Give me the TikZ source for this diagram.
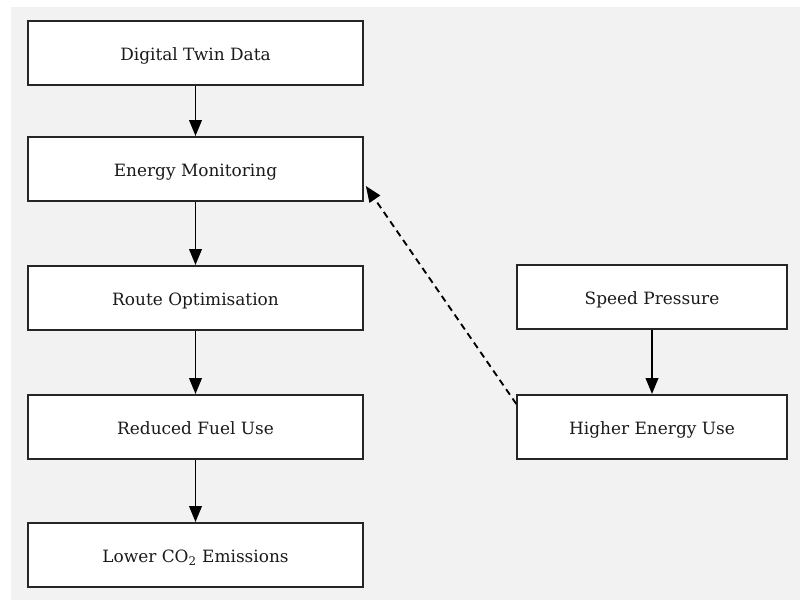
\documentclass[tikz,border=0pt]{standalone}
\usepackage{fontspec}
\setmainfont{DejaVu Serif}
\usetikzlibrary{arrows.meta,calc}
\definecolor{bggray}{HTML}{F2F2F2}
\definecolor{txt}{HTML}{1A1A1A}
\begin{document}
\begin{tikzpicture}[x=0.75pt,y=-0.75pt,
  box/.style={draw=black!85,line width=1.5pt,fill=white,rectangle,inner sep=0pt,
    minimum height=48pt,text height=11.5pt,text depth=0pt,text=txt,
    font=\fontsize{12.7}{15}\selectfont},
  lbox/.style={box,minimum width=251pt},
  rbox/.style={box,minimum width=202pt},
  flow/.style={line width=1.4pt,-{Triangle[length=12pt,width=9.5pt]}},
  back/.style={flow,dash pattern=on 5pt off 3.5pt}]
\useasboundingbox (0,0) rectangle (800,600);
\fill[bggray] (11,7) rectangle (800,600);
\node[lbox] (dt) at (195.5,53) {Digital Twin Data};
\node[lbox] (em) at (195.5,169) {Energy Monitoring};
\node[lbox] (ro) at (195.5,298) {Route Optimisation};
\node[lbox] (rf) at (195.5,427) {Reduced Fuel Use};
\node[lbox] (lc) at (195.5,555) {Lower CO\textsubscript{2} Emissions};
\node[rbox] (sp) at (652,297) {Speed Pressure};
\node[rbox] (he) at (652,427) {Higher Energy Use};
\draw[flow] (dt) -- (em);
\draw[flow] (em) -- (ro);
\draw[flow] (ro) -- (rf);
\draw[flow] (rf) -- (lc);
\draw[flow] (sp) -- (he);
\draw[back] ($(he.north west)+(0,10)$) -- ($(em.south east)+(2,-16)$);
\end{tikzpicture}
\end{document}
